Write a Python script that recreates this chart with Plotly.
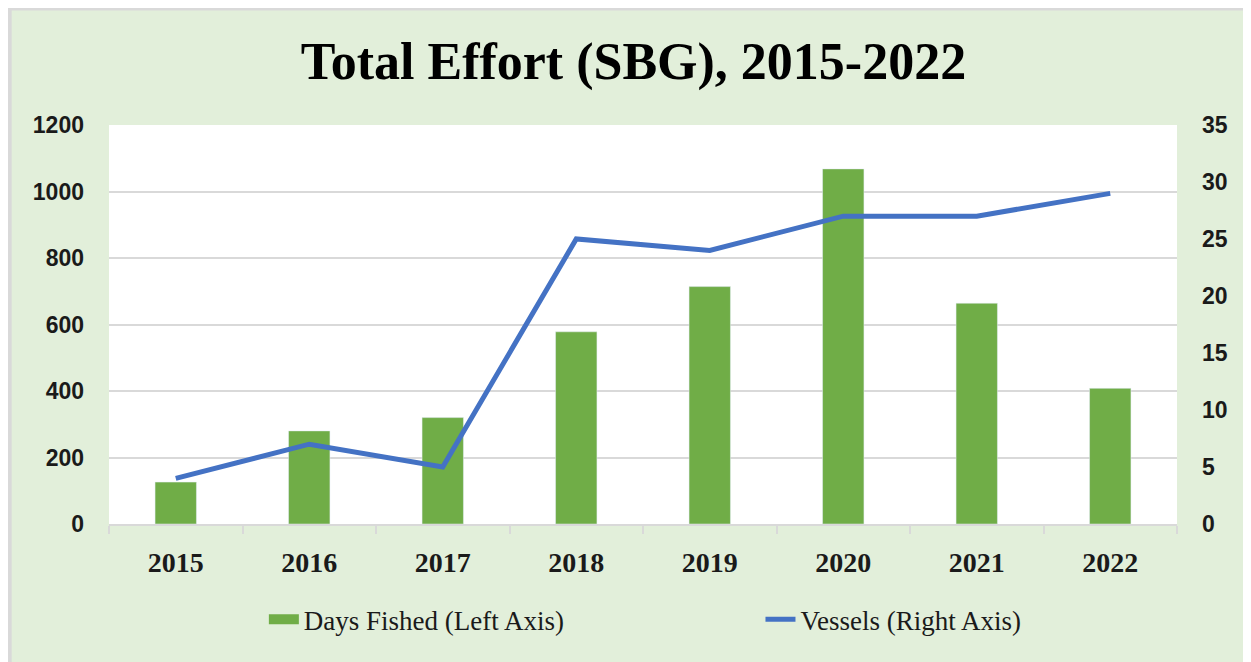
import plotly.graph_objects as go

years = ["2015", "2016", "2017", "2018", "2019", "2020", "2021", "2022"]
days_fished = [126, 280, 320, 578, 714, 1068, 664, 408]
vessels = [4, 7, 5, 25, 24, 27, 27, 29]

bg = "#E2EFDA"
grid = "#D9D9D9"
green = "#70AD47"
blue = "#4472C4"

fig = go.Figure()
fig.add_trace(go.Bar(x=years, y=days_fished, name="Days Fished (Left Axis)",
                     marker=dict(color=green), yaxis="y", showlegend=False))
# legend entry drawn as a wide green block, like the Excel swatch
fig.add_trace(go.Scatter(x=[None], y=[None], name="Days Fished (Left Axis)",
                         mode="lines", line=dict(color=green, width=16)))
fig.add_trace(go.Scatter(x=years, y=vessels, name="Vessels (Right Axis)",
                         mode="lines", line=dict(color=blue, width=5),
                         yaxis="y2", legend="legend2"))

tick_sans = dict(family="Liberation Sans", size=23, color="#1a1a1a", weight="bold")
legend_font = dict(family="Liberation Serif", size=27, color="#1a1a1a")

fig.update_layout(
    width=1251, height=662,
    paper_bgcolor=bg, plot_bgcolor="white",
    margin=dict(l=101, r=82, t=117, b=146),
    bargap=0.69,
    title=dict(text="<b>Total Effort (SBG), 2015-2022</b>", x=0.5, xanchor="center",
               y=0.92, yanchor="middle",
               font=dict(family="Liberation Serif", size=52, color="black")),
    xaxis=dict(type="category", showline=True, linecolor=grid, linewidth=2,
               ticks="outside", tickson="boundaries", ticklen=8, tickcolor=grid,
               tickwidth=2, ticklabelstandoff=12,
               tickfont=dict(family="Liberation Serif", size=28, color="#1a1a1a",
                             weight="bold"),
               showgrid=False),
    yaxis=dict(range=[0, 1200], dtick=200, showgrid=True, gridcolor=grid, gridwidth=2,
               zeroline=False, tickfont=tick_sans, ticklabelstandoff=24),
    yaxis2=dict(range=[0, 35], dtick=5, overlaying="y", side="right", showgrid=False,
                zeroline=False, tickfont=tick_sans, ticklabelstandoff=24),
    legend=dict(orientation="h", x=0.145, xanchor="left", y=-0.24, yanchor="middle",
                font=legend_font, bgcolor="rgba(0,0,0,0)"),
    legend2=dict(orientation="h", x=0.61, xanchor="left", y=-0.24, yanchor="middle",
                 font=legend_font, bgcolor="rgba(0,0,0,0)"),
    shapes=[
        dict(type="line", xref="paper", yref="paper", x0=-0.1, x1=1.2, y0=1.292, y1=1.292,
             line=dict(color=grid, width=4)),
        dict(type="line", xref="paper", yref="paper", x0=-0.093, x1=-0.093, y0=-0.4, y1=1.292,
             line=dict(color=grid, width=4)),
    ],
)

fig.write_html("out.html")
